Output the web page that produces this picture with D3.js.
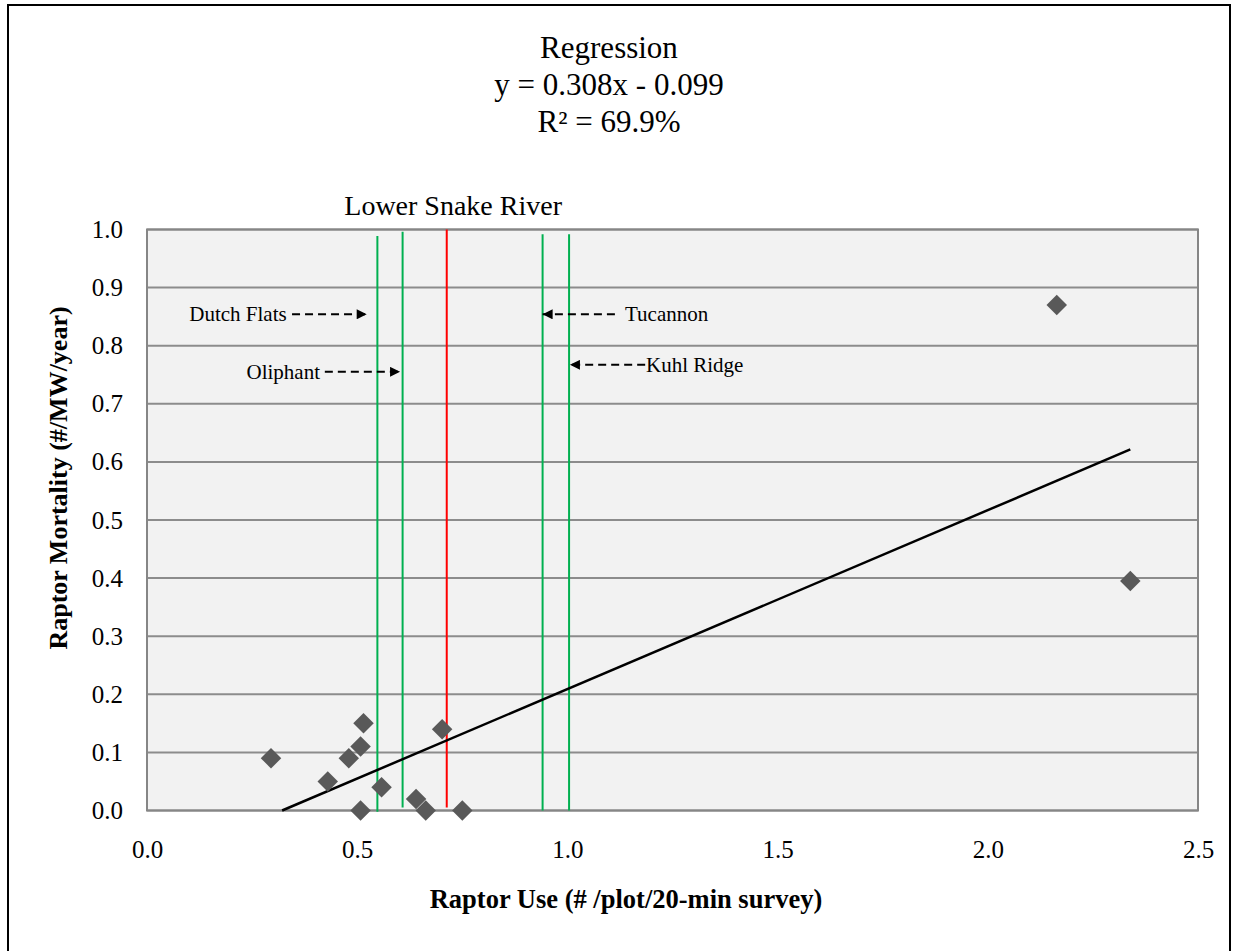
<!DOCTYPE html>
<html>
<head>
<meta charset="utf-8">
<script src="https://cdn.jsdelivr.net/npm/d3@7"></script>
<style>
  body { margin: 0; background: #fff; }
  svg text { font-family: "Liberation Serif", "Times New Roman", serif; fill: #000; }
</style>
</head>
<body>
<div id="chart"></div>
<script>
// raptor use vs raptor mortality, one point per wind project
const useX = [0.295, 0.43, 0.48, 0.508, 0.515, 0.508, 0.558, 0.64, 0.663, 0.702, 0.75, 2.164, 2.339];
const mortY = [0.09, 0.05, 0.09, 0.11, 0.15, 0.0, 0.04, 0.02, 0.0, 0.14, 0.0, 0.87, 0.395];

// regression fit
const slope = 0.308;
const intercept = -0.099;
const titleLines = ["Regression", "y = 0.308x - 0.099", "R² = 69.9%"];

// reference lines (x value, top, bottom, colour)
const refX = [0.548, 0.608, 0.713, 0.941, 1.004];
const refTop = [0.989, 0.996, 1.0, 0.992, 0.992];
const refBottom = [-0.002, 0.005, 0.005, 0.0, 0.0];
const refColor = ["#00b050", "#00b050", "#ff0000", "#00b050", "#00b050"];

// site labels with dashed arrows (data units)
const siteNames = ["Dutch Flats", "Oliphant", "Tucannon", "Kuhl Ridge"];
const siteY = [0.854, 0.755, 0.854, 0.767];
const labelX = [0.3323, 0.4115, 1.137, 1.187];
const arrowTail = [0.345, 0.423, 1.113, 1.185];
const arrowTip = [0.5226, 0.602, 0.941, 1.006];

const xTicks = [0, 0.5, 1.0, 1.5, 2.0, 2.5];
const yTicks = [0, 0.1, 0.2, 0.3, 0.4, 0.5, 0.6, 0.7, 0.8, 0.9, 1.0];

const W = 1233, H = 951;
const plotL = 147, plotR = 1198, plotT = 229.5, plotB = 810.5;

const svg = d3.select("#chart").append("svg")
  .attr("width", W).attr("height", H);

// outer frame
svg.append("rect")
  .attr("x", 8).attr("y", 5)
  .attr("width", 1222).attr("height", 970)
  .attr("fill", "none").attr("stroke", "#000").attr("stroke-width", 2);

const x = d3.scaleLinear().domain([0, 2.5]).range([plotL, plotR]);
const y = d3.scaleLinear().domain([0, 1]).range([plotB, plotT]);

// plot area
svg.append("rect")
  .attr("x", plotL).attr("y", plotT)
  .attr("width", plotR - plotL).attr("height", plotB - plotT)
  .attr("fill", "#f2f2f2");

// gridlines
svg.append("g").selectAll("line")
  .data(yTicks)
  .enter().append("line")
  .attr("x1", plotL).attr("x2", plotR)
  .attr("y1", (d) => y(d)).attr("y2", (d) => y(d))
  .attr("stroke", "#8c8c8c").attr("stroke-width", 2);

svg.append("rect")
  .attr("x", plotL).attr("y", plotT)
  .attr("width", plotR - plotL).attr("height", plotB - plotT)
  .attr("fill", "none").attr("stroke", "#868686").attr("stroke-width", 2);

// axes, labels only
const xAxis = svg.append("g")
  .attr("transform", `translate(0,${plotB})`)
  .call(d3.axisBottom(x).tickValues(xTicks).tickSize(0).tickPadding(30).tickFormat(d3.format(".1f")));
const yAxis = svg.append("g")
  .attr("transform", `translate(${plotL},0)`)
  .call(d3.axisLeft(y).tickValues(yTicks).tickSize(0).tickPadding(24).tickFormat(d3.format(".1f")));
[xAxis, yAxis].forEach((a) => {
  a.select(".domain").remove();
  a.selectAll("text")
    .style("font-family", '"Liberation Serif", "Times New Roman", serif')
    .style("font-size", "25px")
    .attr("fill", "#000");
});

// reference lines
svg.append("g").selectAll("line")
  .data(refX)
  .enter().append("line")
  .attr("x1", (d) => x(d)).attr("x2", (d) => x(d))
  .attr("y1", (d, i) => y(refTop[i])).attr("y2", (d, i) => y(refBottom[i]))
  .attr("stroke", (d, i) => refColor[i]).attr("stroke-width", 2);

// regression line
const fitX0 = -intercept / slope;
const fitX1 = d3.max(useX);
svg.append("line")
  .attr("x1", x(fitX0)).attr("y1", y(slope * fitX0 + intercept))
  .attr("x2", x(fitX1)).attr("y2", y(slope * fitX1 + intercept))
  .attr("stroke", "#000").attr("stroke-width", 2.5);

// points
svg.append("g").selectAll("path")
  .data(useX)
  .enter().append("path")
  .attr("d", d3.symbol().type(d3.symbolSquare).size(210))
  .attr("transform", (d, i) => `translate(${x(d)},${y(mortY[i])}) rotate(45)`)
  .attr("fill", "#595959");

// site annotations
svg.append("defs").append("marker")
  .attr("id", "head")
  .attr("viewBox", "0 0 10 10")
  .attr("refX", 10).attr("refY", 5)
  .attr("markerWidth", 12).attr("markerHeight", 10)
  .attr("markerUnits", "userSpaceOnUse")
  .attr("orient", "auto")
  .append("path").attr("d", "M0,0L10,5L0,10Z").attr("fill", "#000");

const ann = svg.append("g");
siteNames.forEach((name, i) => {
  ann.append("line")
    .attr("x1", x(arrowTail[i])).attr("x2", x(arrowTip[i]))
    .attr("y1", y(siteY[i])).attr("y2", y(siteY[i]))
    .attr("stroke", "#000").attr("stroke-width", 2)
    .attr("stroke-dasharray", "8,5")
    .attr("marker-end", "url(#head)");
  ann.append("text")
    .attr("x", x(labelX[i]))
    .attr("y", y(siteY[i]))
    .attr("dy", "0.32em")
    .attr("text-anchor", arrowTip[i] > arrowTail[i] ? "end" : "start")
    .style("font-size", "21px")
    .text(name);
});

// titles
svg.append("g").selectAll("text")
  .data(titleLines)
  .enter().append("text")
  .attr("x", 609)
  .attr("y", (d, i) => 58 + i * 37)
  .attr("text-anchor", "middle")
  .style("font-size", "31px")
  .text((d) => d);

svg.append("text")
  .attr("x", 562).attr("y", 215)
  .attr("text-anchor", "end")
  .style("font-size", "28px")
  .text("Lower Snake River");

svg.append("text")
  .attr("x", 626).attr("y", 908)
  .attr("text-anchor", "middle")
  .style("font-size", "26.5px").style("font-weight", "bold")
  .text("Raptor Use (# /plot/20-min survey)");

svg.append("text")
  .attr("transform", "translate(67,478) rotate(-90)")
  .attr("text-anchor", "middle")
  .style("font-size", "26px").style("font-weight", "bold")
  .text("Raptor Mortality (#/MW/year)");
</script>
</body>
</html>
